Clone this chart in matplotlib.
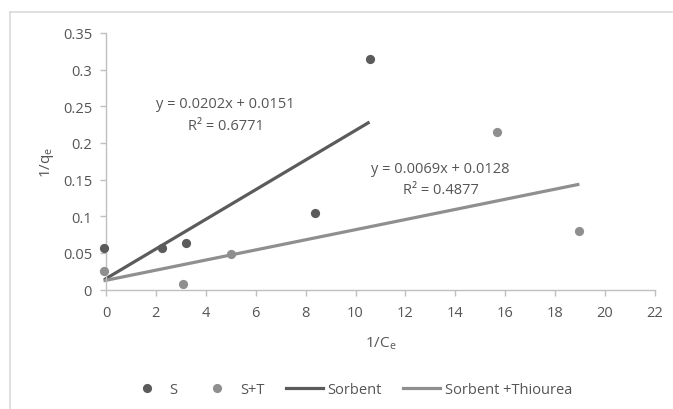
import matplotlib
matplotlib.use("Agg")
import matplotlib.pyplot as plt
import numpy as np
from matplotlib.lines import Line2D

plt.rcParams['font.family'] = ['Open Sans', 'DejaVu Sans']
plt.rcParams['mathtext.fontset'] = 'custom'
plt.rcParams['mathtext.rm'] = 'Open Sans'

# Data
s_x = [-0.08, 2.23, 3.2, 8.37, 10.56]
s_y = [0.0564, 0.0564, 0.064, 0.105, 0.314]
st_x = [-0.1, 3.1, 4.99, 15.67, 18.97]
st_y = [0.0255, 0.0074, 0.049, 0.215, 0.0795]
sorb_coef = (0.0202, 0.0151)
thio_coef = (0.0069, 0.0128)
sorb_r2 = 0.6771
thio_r2 = 0.4877
x_ticks = list(range(0, 23, 2))
y_ticks = [0, 0.05, 0.1, 0.15, 0.2, 0.25, 0.3, 0.35]
y_tick_labels = ['0', '0.05', '0.1', '0.15', '0.2', '0.25', '0.3', '0.35']

dark = '#5b5b5b'
light = '#8f8f8f'
txt = '#555555'
axc = '#bfbfbf'
fs = 10.5

fig = plt.figure(figsize=(6.73, 4.10), dpi=100)
ax = fig.add_axes([106/673, 1-290.7/410, 549/673, (290.7-33.8)/410])

# trendlines
xs1 = np.array([min(s_x), max(s_x)])
ax.plot(xs1, sorb_coef[0]*xs1 + sorb_coef[1], color=dark, lw=2.3, clip_on=False, zorder=2, solid_capstyle='butt')
xs2 = np.array([min(st_x), max(st_x)])
ax.plot(xs2, thio_coef[0]*xs2 + thio_coef[1], color=light, lw=2.3, clip_on=False, zorder=2, solid_capstyle='butt')

ax.scatter(s_x, s_y, s=44, color=dark, clip_on=False, zorder=3, linewidths=0)
ax.scatter(st_x, st_y, s=44, color=light, clip_on=False, zorder=3, linewidths=0)

ax.set_xlim(0, 22)
ax.set_ylim(0, 0.35)
ax.set_xticks(x_ticks)
ax.set_yticks(y_ticks)
ax.set_yticklabels(y_tick_labels)
for sp in ['top', 'right']:
    ax.spines[sp].set_visible(False)
for sp in ['left', 'bottom']:
    ax.spines[sp].set_color(axc)
    ax.spines[sp].set_linewidth(1.0)
ax.tick_params(axis='both', colors=axc, labelcolor=txt, labelsize=fs, length=4, width=1)
ax.tick_params(axis='x', pad=7)
ax.tick_params(axis='y', pad=6)

ax.set_xlabel('1/C$_\\mathregular{e}$', color=txt, fontsize=fs + 0.5, labelpad=10)
ax.set_ylabel('1/q$_\\mathregular{e}$', color=txt, fontsize=fs + 0.5, labelpad=5)

# equation labels
fig.text(225.5/673, 1-105/410, f'y = {sorb_coef[0]}x + {sorb_coef[1]}', ha='center', va='center', color=txt, fontsize=fs)
fig.text(225.5/673, 1-126/410, f'R² = {sorb_r2}', ha='center', va='center', color=txt, fontsize=fs)
fig.text(440.5/673, 1-170/410, f'y = {thio_coef[0]}x + {thio_coef[1]}', ha='center', va='center', color=txt, fontsize=fs)
fig.text(440.5/673, 1-191/410, f'R² = {thio_r2}', ha='center', va='center', color=txt, fontsize=fs)

# border lines
fig.add_artist(Line2D([10/673, 10/673], [0, 1-12.5/410], color='#d9d9d9', lw=1.2))
fig.add_artist(Line2D([10/673, 672/673], [1-12.5/410, 1-12.5/410], color='#d9d9d9', lw=1.2))

handles = [
    Line2D([], [], ls='none', marker='o', markersize=6.6, color=dark, markeredgewidth=0),
    Line2D([], [], ls='none', marker='o', markersize=6.6, color=light, markeredgewidth=0),
    Line2D([], [], color=dark, lw=2.3),
    Line2D([], [], color=light, lw=2.3),
]
labels = ['S', 'S+T', 'Sorbent', 'Sorbent +Thiourea']
leg = fig.legend(handles, labels, loc='center', bbox_to_anchor=(350/673, 1-390.7/410), ncol=4,
                 frameon=False, fontsize=fs, handlelength=2.55, columnspacing=1.45, handletextpad=0.3,
                 labelcolor=txt, borderpad=0, borderaxespad=0)

fig.savefig('out.png', dpi=100)
